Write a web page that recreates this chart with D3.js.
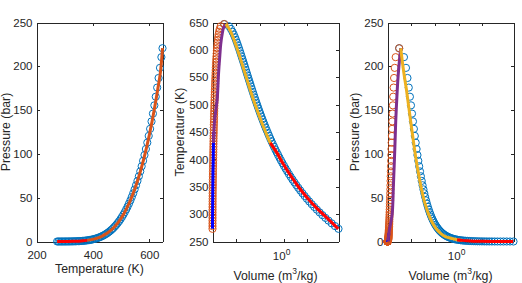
<!DOCTYPE html>
<html>
<head>
<meta charset="utf-8">
<script src="https://cdn.jsdelivr.net/npm/d3@7"></script>
<style>
  body { margin: 0; background: #fff; }
  svg { display: block; }
  text { font-family: "Liberation Sans", Arial, Helvetica, sans-serif; fill: #262626; }
</style>
</head>
<body>
<svg id="fig" width="522" height="283"></svg>
<script>
// saturation table (circles): T in K, P in bar, v in m3/kg
const tSat = [273.16, 278.15, 283.15, 288.15, 293.15, 298.15, 303.15, 308.15, 313.15, 318.15,
  323.15, 328.15, 333.15, 338.15, 343.15, 348.15, 353.15, 358.15, 363.15, 368.15,
  373.15, 378.15, 383.15, 388.15, 393.15, 398.15, 403.15, 408.15, 413.15, 418.15,
  423.15, 428.15, 433.15, 438.15, 443.15, 448.15, 453.15, 458.15, 463.15, 468.15,
  473.15, 478.15, 483.15, 488.15, 493.15, 498.15, 503.15, 508.15, 513.15, 518.15,
  523.15, 528.15, 533.15, 538.15, 543.15, 548.15, 553.15, 558.15, 563.15, 568.15,
  573.15, 578.15, 583.15, 588.15, 593.15, 598.15, 603.15, 608.15, 613.15, 618.15,
  623.15, 628.15, 633.15, 638.15, 643.15, 647.1];
const pSat = [0.0061, 0.0087, 0.0123, 0.0171, 0.0234, 0.0317, 0.0425, 0.0563, 0.0739, 0.0960,
  0.1235, 0.1576, 0.1995, 0.2504, 0.3120, 0.3860, 0.4742, 0.5787, 0.7018, 0.8461,
  1.0142, 1.2090, 1.4338, 1.6918, 1.9867, 2.3223, 2.7028, 3.1322, 3.6153, 4.1568,
  4.7616, 5.4349, 6.1823, 7.0093, 7.9218, 8.9260, 10.028, 11.235, 12.552, 13.988,
  15.549, 17.243, 19.077, 21.059, 23.196, 25.497, 27.971, 30.626, 33.470, 36.512,
  39.762, 43.229, 46.923, 50.853, 55.030, 59.464, 64.166, 69.146, 74.418, 79.990,
  85.879, 92.094, 98.650, 105.56, 112.84, 120.51, 128.58, 137.07, 146.01, 155.41,
  165.29, 175.70, 186.66, 198.22, 210.44, 220.64];
const vLiq = [0.001000, 0.001000, 0.001000, 0.001001, 0.001002, 0.001003, 0.001004, 0.001006, 0.001008, 0.001010,
  0.001012, 0.001015, 0.001017, 0.001020, 0.001023, 0.001026, 0.001029, 0.001032, 0.001036, 0.001040,
  0.001043, 0.001047, 0.001052, 0.001056, 0.001060, 0.001065, 0.001070, 0.001075, 0.001080, 0.001085,
  0.001091, 0.001096, 0.001102, 0.001108, 0.001114, 0.001121, 0.001127, 0.001134, 0.001141, 0.001149,
  0.001157, 0.001164, 0.001173, 0.001181, 0.001190, 0.001199, 0.001209, 0.001219, 0.001229, 0.001240,
  0.001252, 0.001263, 0.001276, 0.001289, 0.001303, 0.001317, 0.001333, 0.001349, 0.001366, 0.001384,
  0.001404, 0.001425, 0.001447, 0.001472, 0.001499, 0.001528, 0.001560, 0.001597, 0.001638, 0.001685,
  0.001741, 0.001808, 0.001895, 0.002017, 0.002215, 0.003106];
const vVap = [206.00, 147.03, 106.32, 77.885, 57.762, 43.340, 32.879, 25.205, 19.515, 15.251,
  12.026, 9.5639, 7.6670, 6.1935, 5.0396, 4.1291, 3.4053, 2.8261, 2.3593, 1.9808,
  1.6720, 1.4186, 1.2094, 1.0360, 0.89133, 0.77012, 0.66808, 0.58179, 0.50850, 0.44600,
  0.39248, 0.34648, 0.30680, 0.27244, 0.24260, 0.21659, 0.19384, 0.17390, 0.15636, 0.14089,
  0.12721, 0.11508, 0.10429, 0.094680, 0.086094, 0.078405, 0.071505, 0.065300, 0.059707, 0.054656,
  0.050085, 0.045941, 0.042175, 0.038748, 0.035622, 0.032767, 0.030153, 0.027756, 0.025554, 0.023528,
  0.021659, 0.019932, 0.018333, 0.016849, 0.015470, 0.014183, 0.012979, 0.011848, 0.010783, 0.009772,
  0.008806, 0.007872, 0.006950, 0.006009, 0.004946, 0.003106];

// model curves (thick lines)
const tModel = [273.16, 290, 310, 330, 350, 365, 380, 395, 410, 430, 450, 470,
  490, 510, 530, 550, 570, 590, 610, 630, 640, 647.1];
const pModel = [0.0061, 0.0192, 0.0623, 0.172, 0.417, 0.755, 1.29, 2.11, 3.31, 5.69, 9.32, 14.6,
  21.9, 31.8, 44.7, 61.1, 81.5, 106.6, 137.0, 173.3, 194.0, 220.64];
const vLiqModel = [0.00100, 0.00100, 0.00101, 0.00102, 0.00103, 0.00104, 0.00105, 0.00107, 0.00108, 0.00110, 0.00114, 0.00122,
  0.00138, 0.00158, 0.00168, 0.00176, 0.00188, 0.00204, 0.00222, 0.00258, 0.00290, 0.00360];
const vVapModel = [200, 80, 26, 9.8, 4.2, 2.4, 1.42, 0.86, 0.555, 0.275, 0.173, 0.113,
  0.076, 0.0525, 0.037, 0.0265, 0.019, 0.0136, 0.0095, 0.0063, 0.0048, 0.0036];

const tempTicks = [200, 400, 600];
const pressTicks = [0, 50, 100, 150, 200, 250];
const tempTicksY = [250, 300, 350, 400, 450, 500, 550, 600, 650];
const volTicks = [0.01, 0.1, 1, 10];

const INK = "#262626";
const TOP = 22.5, BOTTOM = 241.5, PW = 126;
const TICK_FONT = 11.5, LABEL_FONT = 12.3;
const R = 3.6, LW = 3;

const svg = d3.select("#fig");
const sat = tSat.map((t, i) => ({ t: t, p: pSat[i], vl: vLiq[i], vv: vVap[i] }));
const mod = tModel.map((t, i) => ({ t: t, p: pModel[i], vl: vLiqModel[i], vv: vVapModel[i] }));

function styleAxis(g) {
  g.attr("font-size", TICK_FONT).attr("font-family", null);
  g.selectAll("path, line").attr("stroke", INK).attr("shape-rendering", "crispEdges");
  g.selectAll("text").attr("fill", INK);
}

function frame(left, x, y, xTicks, yTicks, xLabels) {
  const g = svg.append("g");
  g.append("g").attr("transform", `translate(0,${BOTTOM})`)
    .call(d3.axisBottom(x).tickValues(xTicks).tickSizeInner(-3).tickSizeOuter(0).tickPadding(9)
      .tickFormat(xLabels ? d3.format("d") : ""))
    .call(styleAxis);
  g.append("g").attr("transform", `translate(0,${TOP})`)
    .call(d3.axisTop(x).tickValues(xTicks).tickSizeInner(-3).tickSizeOuter(0).tickFormat(""))
    .call(styleAxis);
  g.append("g").attr("transform", `translate(${left},0)`)
    .call(d3.axisLeft(y).tickValues(yTicks).tickSizeInner(-3).tickSizeOuter(0).tickPadding(4))
    .call(styleAxis);
  g.append("g").attr("transform", `translate(${left + PW},0)`)
    .call(d3.axisRight(y).tickValues(yTicks).tickSizeInner(-3).tickSizeOuter(0).tickFormat(""))
    .call(styleAxis);
  return g;
}

function yLabel(xBase, txt) {
  svg.append("text")
    .attr("transform", `translate(${xBase},${(TOP + BOTTOM) / 2}) rotate(-90)`)
    .attr("text-anchor", "middle")
    .attr("font-size", LABEL_FONT)
    .text(txt);
}

function volumeAxisText(x, left) {
  const t = svg.append("text")
    .attr("x", x(1) - 2).attr("y", 260)
    .attr("text-anchor", "middle").attr("font-size", TICK_FONT);
  t.append("tspan").text("10");
  t.append("tspan").attr("dy", -5.5).attr("font-size", 8.5).text("0");

  const l = svg.append("text")
    .attr("x", left + PW / 2).attr("y", 280)
    .attr("text-anchor", "middle").attr("font-size", LABEL_FONT);
  l.append("tspan").text("Volume (m");
  l.append("tspan").attr("dy", -6).attr("font-size", 8.5).text("3");
  l.append("tspan").attr("dy", 6).text("/kg)");
}

function circles(xs, ys, data, color) {
  svg.append("g").selectAll("circle").data(data).join("circle")
    .attr("cx", d => xs(d)).attr("cy", d => ys(d)).attr("r", R)
    .attr("fill", "none").attr("stroke", color).attr("stroke-width", 1);
}

function curve(xs, ys, data, color) {
  const line = d3.line().x(xs).y(ys).curve(d3.curveCatmullRom);
  svg.append("path").datum(data).attr("d", line)
    .attr("fill", "none").attr("stroke", color).attr("stroke-width", LW)
    .attr("stroke-linejoin", "round");
}

// ---- panel 1: P vs T
const L1 = 36.5;
const x1 = d3.scaleLinear().domain([200, 647.1]).range([L1, L1 + PW]);
const yP1 = d3.scaleLinear().domain([0, 250]).range([BOTTOM, TOP]);
frame(L1, x1, yP1, tempTicks, pressTicks, true);
circles(d => x1(d.t), d => yP1(d.p), sat, "#0072BD");
curve(d => x1(d.t), d => yP1(d.p), mod.filter(d => d.t <= 380), "#FF0000");
curve(d => x1(d.t), d => yP1(d.p), mod.filter(d => d.t >= 380), "#D95319");
yLabel(10.3, "Pressure (bar)");
svg.append("text").attr("x", L1 + PW / 2).attr("y", 272.6)
  .attr("text-anchor", "middle").attr("font-size", LABEL_FONT).text("Temperature (K)");

// ---- panel 2: T vs v
const L2 = 212.5;
const x2 = d3.scaleLog().domain([0.001, 206]).range([L2, L2 + PW]);
const yT2 = d3.scaleLinear().domain([250, 650]).range([BOTTOM, TOP]);
frame(L2, x2, yT2, volTicks, tempTicksY, false);
circles(d => x2(d.vv), d => yT2(d.t), sat, "#0072BD");
circles(d => x2(d.vl), d => yT2(d.t), sat, "#D95319");
curve(d => x2(d.vl), d => yT2(d.t), mod.filter(d => d.t <= 450), "#0000FF");
curve(d => x2(d.vl), d => yT2(d.t), mod.filter(d => d.t >= 430), "#7E2F8E");
curve(d => x2(d.vv), d => yT2(d.t), mod.filter(d => d.t >= 395), "#EDB120");
curve(d => x2(d.vv), d => yT2(d.t), mod.filter(d => d.t <= 430), "#FF0000");
yLabel(183.6, "Temperature (K)");
volumeAxisText(x2, L2);

// ---- panel 3: P vs v
const L3 = 387.5;
const x3 = d3.scaleLog().domain([0.001, 206]).range([L3, L3 + PW]);
const yP3 = d3.scaleLinear().domain([0, 250]).range([BOTTOM, TOP]);
frame(L3, x3, yP3, volTicks, pressTicks, false);
circles(d => x3(d.vv), d => yP3(d.p), sat, "#0072BD");
circles(d => x3(d.vl), d => yP3(d.p), sat, "#D95319");
curve(d => x3(d.vl), d => yP3(d.p), mod.filter(d => d.t <= 450), "#0000FF");
curve(d => x3(d.vl), d => yP3(d.p), mod.filter(d => d.t >= 365), "#7E2F8E");
curve(d => x3(d.vv), d => yP3(d.p), mod.filter(d => d.t >= 380), "#EDB120");
curve(d => x3(d.vv), d => yP3(d.p), mod.filter(d => d.t <= 395), "#FF0000");
yLabel(359.3, "Pressure (bar)");
volumeAxisText(x3, L3);
</script>
</body>
</html>
